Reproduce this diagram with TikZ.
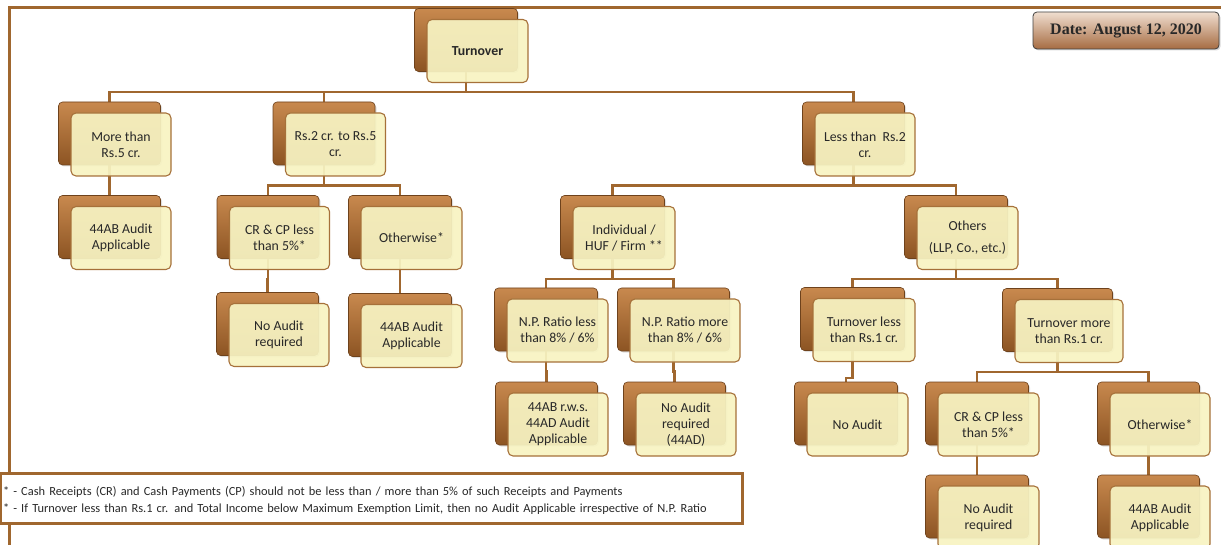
\documentclass[tikz,border=0pt]{standalone}
\usepackage{fontspec}
\setmainfont{Carlito}
\newfontfamily\datefont{Liberation Serif}
\usetikzlibrary{backgrounds,shadows}
\definecolor{linebrown}{RGB}{160,103,47}
\definecolor{backtop}{RGB}{200,137,78}
\definecolor{backbot}{RGB}{140,84,35}
\definecolor{backedge}{RGB}{110,66,28}
\definecolor{cream}{RGB}{247,243,194}
\definecolor{frontedge}{RGB}{166,113,58}
\definecolor{ink}{RGB}{40,40,40}
\definecolor{datetop}{RGB}{240,222,208}
\definecolor{datebot}{RGB}{166,108,66}

% back card + front card, named #1b and #1
\newcommand{\auditbox}[5]{%
  \node[backbox, minimum width=#4pt+2pt] (#1b) at (#2-11.5,#3-11) {};
  \node[frontbox, minimum width=#4pt] (#1) at (#2,#3) {#5};}

\begin{document}
\begin{tikzpicture}[x=1pt, y=-1pt,
  frame/.style={draw=linebrown, line width=3pt},
  link/.style={draw=linebrown, line width=2.2pt},
  bus/.style={to path={(\tikztostart.center) -- ++(0,#1) -| (\tikztotarget.center)}}, bus/.default=52,
  backbox/.style={rounded corners=4pt, minimum height=63pt, draw=backedge, line width=0.6pt,
    top color=backtop, bottom color=backbot,
    drop shadow={opacity=0.25, shadow xshift=1.5pt, shadow yshift=-1.5pt}},
  frontbox/.style={rounded corners=5pt, minimum height=63pt, draw=frontedge, line width=1.1pt,
    fill=cream, fill opacity=0.93, text opacity=1, text=ink, align=center, inner sep=2pt,
    font=\fontsize{13.8}{16}\selectfont},
  datebox/.style={rounded corners=4pt, minimum width=186pt, minimum height=37pt, draw=black!75,
    line width=0.8pt, top color=datetop, bottom color=datebot, text=ink,
    font=\datefont\bfseries\fontsize{16}{18}\selectfont,
    drop shadow={opacity=0.3, shadow xshift=1.5pt, shadow yshift=-1.5pt}},
  notebox/.style={draw=linebrown, line width=3pt, fill=white, text=ink, align=left,
    text width=736pt, inner xsep=3pt, minimum height=50pt, anchor=west,
    font=\fontsize{12.4}{17}\selectfont}]
\useasboundingbox (0,0) rectangle (1221,545);
\draw[frame] (1221,8) -- (9,8) -- (9,545);

% level 0
\auditbox{turn}{477.5}{51}{101}{\textbf{Turnover}}
\node[datebox] (date) at (1126,30.5) {Date: August 12, 2020};

% level 1
\auditbox{more}{121}{144.5}{100}{More than\\Rs.5 cr.}
\auditbox{mid}{335.5}{144.5}{100}{Rs.2 cr. to Rs.5\\cr.}
\auditbox{less}{865}{144.5}{100}{Less than~~Rs.2\\cr.}

% level 2
\auditbox{moreaud}{121}{238}{100}{44AB Audit\\Applicable}
\auditbox{midcr}{279.5}{238}{100}{CR \& CP less\\than 5\%*}
\auditbox{midoth}{411.5}{238}{101}{Otherwise*}
\auditbox{indiv}{624}{238}{102}{Individual /\\HUF / Firm **}
\auditbox{others}{967.5}{238}{101}{Others\\[6pt](LLP, Co., etc.)}

% level 3
\auditbox{midcrno}{279}{335}{100}{No Audit\\required}
\auditbox{midothaud}{411.5}{336}{101}{44AB Audit\\Applicable}
\auditbox{npless}{557.5}{330.5}{101}{N.P. Ratio less\\than 8\% / 6\%}
\auditbox{npmore}{685}{330.5}{110}{N.P. Ratio more\\than 8\% / 6\%}
\auditbox{tol}{864}{330}{102}{Turnover less\\than Rs.1 cr.}
\auditbox{tom}{1069}{331}{108}{Turnover more\\than Rs.1 cr.}

% level 4
\auditbox{nplaud}{558}{424.5}{100}{44AB r.w.s.\\44AD Audit\\Applicable}
\auditbox{npmno}{686}{424.5}{100}{No Audit\\required\\(44AD)}
\auditbox{tolno}{857.5}{424.5}{101}{No Audit}
\auditbox{tomcr}{988.5}{424.5}{101}{CR \& CP less\\than 5\%*}
\auditbox{tomoth}{1160}{424.5}{100}{Otherwise*}

% level 5
\auditbox{tomcrno}{988.5}{517.5}{101}{No Audit\\required}
\auditbox{tomothaud}{1160}{517.5}{100}{44AB Audit\\Applicable}

% notes
\node[notebox] (notes) at (-1.5,498.5) {\rule{0pt}{13pt}* - Cash Receipts (CR) and Cash Payments (CP) should not be less than / more than 5\% of such Receipts and Payments\\
** - If Turnover less than Rs.1 cr. and Total Income below Maximum Exemption Limit, then no Audit Applicable irrespective of N.P. Ratio};

\begin{scope}[on background layer]
\draw[link] (turnb) edge[bus] (moreb) edge[bus] (midb) edge[bus] (lessb);
\draw[link] (moreb) edge[bus] (moreaudb);
\draw[link] (midb) edge[bus] (midcrb) edge[bus] (midothb);
\draw[link] (lessb) edge[bus] (indivb) edge[bus] (othersb);
\draw[link] (midcrb) edge[bus] (midcrnob);
\draw[link] (midothb) edge[bus] (midothaudb);
\draw[link] (indivb) edge[bus] (nplessb) edge[bus] (npmoreb);
\draw[link] (othersb) edge[bus] (tolb) edge[bus] (tomb);
\draw[link] (nplessb) edge[bus] (nplaudb);
\draw[link] (npmoreb) edge[bus] (npmnob);
\draw[link] (tolb) edge[bus=59] (tolnob);
\draw[link] (tomb) edge[bus] (tomcrb) edge[bus] (tomothb);
\draw[link] (tomcrb) edge[bus] (tomcrnob);
\draw[link] (tomothb) edge[bus] (tomothaudb);
\end{scope}
\end{tikzpicture}
\end{document}
